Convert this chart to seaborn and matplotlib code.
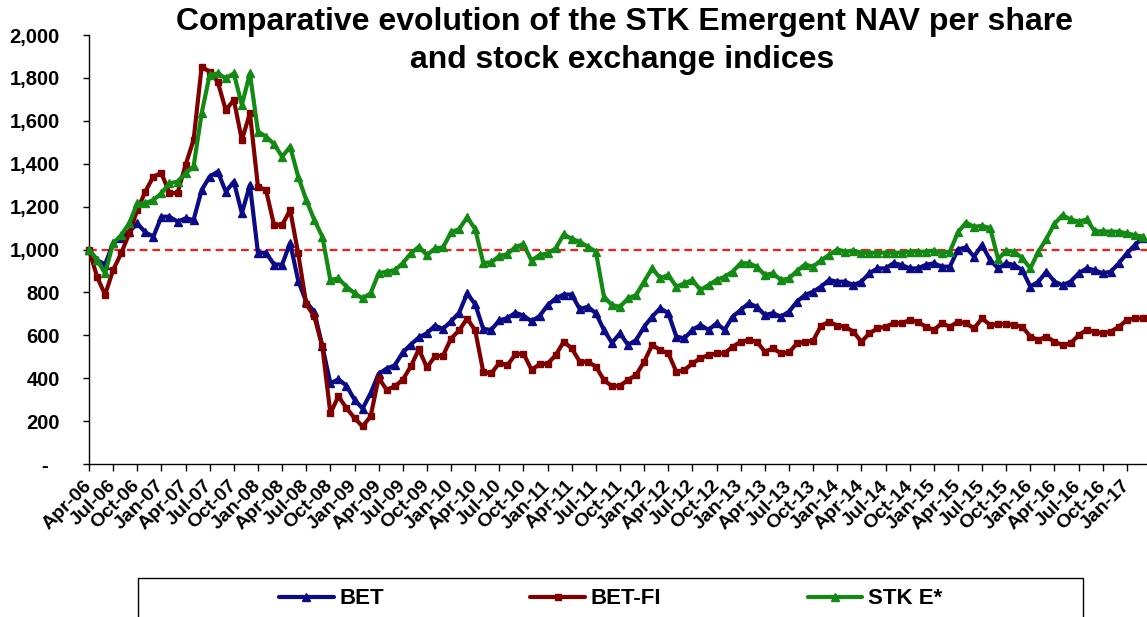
import numpy as np
import matplotlib
matplotlib.use('Agg')
import matplotlib.pyplot as plt
import seaborn as sns
from matplotlib.patches import Rectangle

# ---------------- data (monthly, Apr-06 .. Mar-17) ----------------
tick_labels = ['Apr-06', 'Jul-06', 'Oct-06', 'Jan-07', 'Apr-07', 'Jul-07', 'Oct-07', 'Jan-08',
               'Apr-08', 'Jul-08', 'Oct-08', 'Jan-09', 'Apr-09', 'Jul-09', 'Oct-09', 'Jan-10',
               'Apr-10', 'Jul-10', 'Oct-10', 'Jan-11', 'Apr-11', 'Jul-11', 'Oct-11', 'Jan-12',
               'Apr-12', 'Jul-12', 'Oct-12', 'Jan-13', 'Apr-13', 'Jul-13', 'Oct-13', 'Jan-14',
               'Apr-14', 'Jul-14', 'Oct-14', 'Jan-15', 'Apr-15', 'Jul-15', 'Oct-15', 'Jan-16',
               'Apr-16', 'Jul-16', 'Oct-16', 'Jan-17']

bet = [1000, 951, 930, 1029, 1052, 1083, 1122, 1080, 1060, 1153, 1153, 1130,
       1145, 1138, 1277, 1340, 1363, 1270, 1316, 1169, 1301, 985, 985, 930,
       930, 1030, 855, 755, 710, 550, 376, 395, 365, 300, 258, 330,
       420, 445, 460, 520, 557, 590, 610, 645, 630, 665, 705, 795,
       745, 630, 625, 670, 680, 705, 692, 665, 690, 740, 772, 790,
       790, 722, 733, 703, 625, 565, 609, 555, 578, 640, 687, 726,
       703, 594, 586, 625, 648, 625, 656, 625, 687, 718, 749, 733,
       695, 703, 687, 710, 757, 788, 803, 827, 858, 850, 850, 834,
       850, 889, 912, 912, 936, 928, 912, 912, 928, 936, 920, 920,
       1000, 1010, 967, 1021, 951, 912, 936, 928, 904, 827, 850, 897,
       850, 834, 850, 889, 912, 904, 889, 897, 936, 982, 1021, 1055]

bet_fi = [1000, 873, 789, 905, 982, 1075, 1184, 1270, 1340, 1356, 1263, 1263,
          1394, 1511, 1852, 1829, 1782, 1650, 1697, 1511, 1635, 1293, 1277, 1114,
          1114, 1184, 982, 745, 688, 548, 237, 315, 261, 214, 175, 222,
          401, 346, 362, 393, 455, 535, 450, 502, 505, 585, 623, 678,
          623, 430, 422, 472, 460, 511, 515, 440, 464, 468, 507, 570,
          539, 477, 477, 454, 392, 362, 365, 392, 415, 477, 555, 531,
          516, 430, 438, 469, 493, 508, 516, 516, 547, 570, 578, 570,
          524, 539, 516, 520, 562, 570, 575, 645, 663, 645, 640, 617,
          570, 609, 632, 640, 656, 656, 671, 663, 640, 625, 656, 640,
          663, 656, 632, 679, 648, 652, 652, 648, 640, 594, 578, 594,
          570, 555, 562, 601, 625, 617, 609, 617, 640, 671, 679, 679]

stk_e = [1000, 951, 889, 1029, 1067, 1122, 1215, 1215, 1231, 1262, 1309, 1316,
         1356, 1387, 1635, 1814, 1821, 1798, 1821, 1674, 1821, 1550, 1526, 1492,
         1433, 1479, 1340, 1231, 1138, 1060, 858, 865, 827, 796, 772, 796,
         889, 897, 904, 936, 982, 1013, 974, 1005, 1010, 1080, 1095, 1150,
         1095, 938, 940, 970, 978, 1012, 1025, 948, 974, 982, 1005, 1070,
         1050, 1036, 1013, 990, 780, 741, 733, 772, 788, 850, 913, 866,
         881, 827, 842, 858, 811, 834, 858, 873, 897, 936, 936, 920,
         881, 889, 858, 865, 900, 930, 920, 950, 975, 1000, 990, 995,
         985, 985, 985, 985, 985, 985, 990, 990, 990, 995, 985, 990,
         1080, 1125, 1106, 1110, 1100, 955, 995, 990, 960, 912, 990, 1050,
         1120, 1160, 1140, 1130, 1140, 1085, 1085, 1083, 1083, 1075, 1067, 1060]

series_names = ['BET', 'BET-FI', 'STK E*']
series_values = [bet, bet_fi, stk_e]
series_colors = ['#0b0b86', '#800000', '#138a13']
series_markers = ['^', 's', '^']
series_msize = [7.5, 5.5, 7.5]

y_ticks = [0, 200, 400, 600, 800, 1000, 1200, 1400, 1600, 1800, 2000]
reference_level = 1000

# ---------------- figure ----------------
W, H = 1147, 617
sns.set_style('ticks')
plt.rcParams['font.family'] = ['Liberation Sans', 'DejaVu Sans']
plt.rcParams['font.weight'] = 'bold'
plt.rcParams['text.color'] = 'black'

fig = plt.figure(figsize=(W / 100, H / 100), dpi=100)
ax = fig.add_axes([89 / W, (H - 464) / H, (W - 89) / W, (464 - 35) / H])

months = np.arange(len(bet))
ax.axhline(reference_level, color='#ff1a1a', ls=(0, (3.5, 2.2)), lw=1.6, zorder=1)

for i, (name, vals, col, mk, ms) in enumerate(zip(series_names, series_values, series_colors,
                                                     series_markers, series_msize)):
    sns.lineplot(x=months, y=vals, ax=ax, color=col, marker=mk, markersize=ms,
                 markeredgecolor=col, markeredgewidth=1, linewidth=3.0, label=name,
                 zorder=3 + i, clip_on=False)

ax.set_xlim(0, 131.5)
ax.set_ylim(0, 2000)
for s in ['top', 'right']:
    ax.spines[s].set_visible(False)
for s in ['left', 'bottom']:
    ax.spines[s].set_color('black')
    ax.spines[s].set_linewidth(1.0)

ax.set_xticks(np.arange(0, len(tick_labels) * 3, 3))
ax.set_xticklabels(tick_labels, rotation=45, ha='right', va='center',
                   rotation_mode='anchor', fontsize=14, fontweight='bold')
ax.tick_params(axis='x', length=5, width=1, pad=9, direction='out', colors='black')

ax.set_yticks(y_ticks)
ax.set_yticklabels([f'{v:,}' if v else '-  ' for v in y_ticks], fontsize=14.5, fontweight='bold')
ax.tick_params(axis='y', length=4, width=1, pad=17, direction='out', colors='black')
ax.set_xlabel('')
ax.set_ylabel('')

# title
fig.text(624 / W, 1 - 22 / H, 'Comparative evolution of the STK Emergent NAV per share',
         ha='center', va='center', fontsize=23, fontweight='bold', color='black')
fig.text(622 / W, 1 - 60 / H, 'and stock exchange indices',
         ha='center', va='center', fontsize=23, fontweight='bold', color='black')

# legend
handles, labels = ax.get_legend_handles_labels()
ax.get_legend().remove()
for h, ms in zip(handles, [6, 4.5, 6]):
    h.set_markersize(ms)
fig.legend(handles, labels, loc='center', bbox_to_anchor=(610.5 / W, 1 - 599 / H),
           ncol=3, frameon=False, handlelength=2.45, handletextpad=0.25,
           columnspacing=6.6, prop={'weight': 'bold', 'size': 16})
fig.add_artist(Rectangle((138 / W, -0.1), (1083 - 138) / W, (H - 578) / H + 0.1,
                         transform=fig.transFigure, fill=False, edgecolor='black',
                         lw=1.0, clip_on=False))

fig.savefig('out.png', dpi=100)
